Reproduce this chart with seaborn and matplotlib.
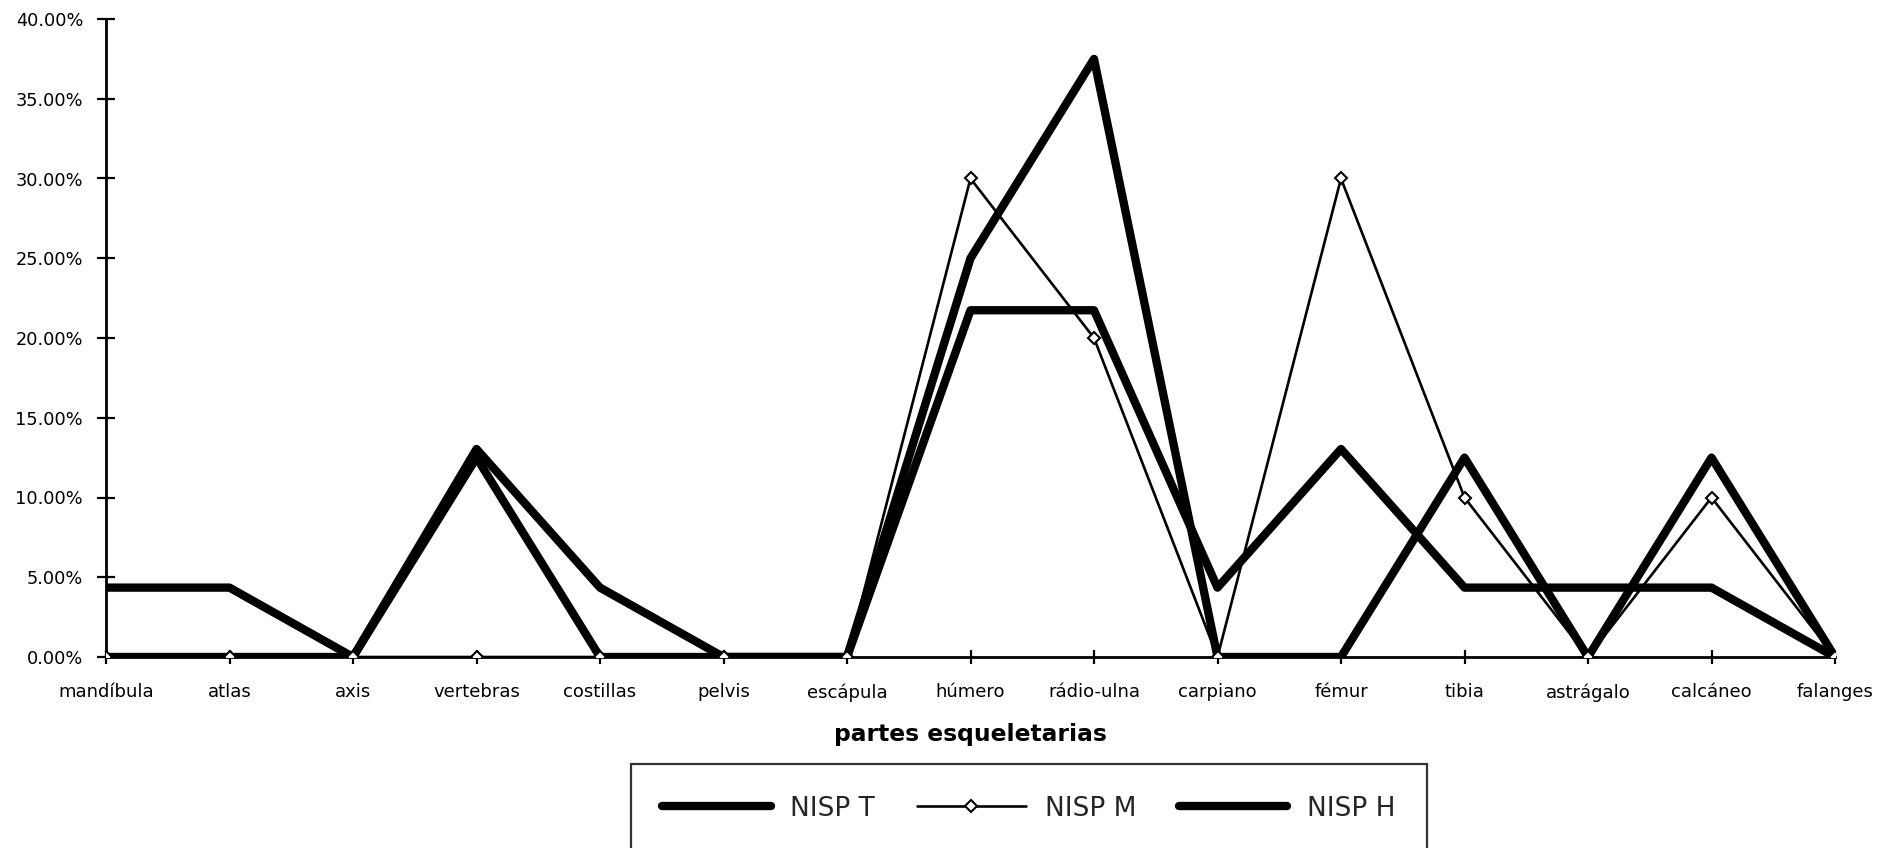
import numpy as np
import pandas as pd
import matplotlib
matplotlib.use("Agg")
import matplotlib.pyplot as plt
from matplotlib.ticker import PercentFormatter, FixedLocator
from matplotlib.lines import Line2D
import seaborn as sns

# Skeletal parts along the x axis
partes = ["mandíbula", "atlas", "axis", "vertebras", "costillas", "pelvis",
          "escápula", "húmero", "rádio-ulna", "carpiano", "fémur", "tibia",
          "astrágalo", "calcáneo", "falanges"]

# Percentage of NISP per skeletal part for each sample
nisp_t = [4.35, 4.35, 0.0, 13.04, 4.35, 0.0, 0.0, 21.74, 21.74, 4.35,
          13.04, 4.35, 4.35, 4.35, 0.0]
nisp_m = [0.0, 0.0, 0.0, 0.0, 0.0, 0.0, 0.0, 30.0, 20.0, 0.0,
          30.0, 10.0, 0.0, 10.0, 0.0]
nisp_h = [0.0, 0.0, 0.0, 12.5, 0.0, 0.0, 0.0, 25.0, 37.5, 0.0,
          0.0, 12.5, 0.0, 12.5, 0.0]

y_ticks = [0, 5, 10, 15, 20, 25, 30, 35, 40]

sns.set_style("ticks")
plt.rcParams["font.family"] = ["DejaVu Sans"]

df = pd.DataFrame({
    "pos": np.arange(len(partes)),
    "NISP T": nisp_t,
    "NISP M": nisp_m,
    "NISP H": nisp_h,
})

THICK = 6.0
THIN = 1.9

fig = plt.figure(figsize=(18.96, 8.48), dpi=100)
ax = fig.add_axes([106 / 1896, 1 - 657 / 848, (1835 - 106) / 1896, (657 - 19) / 848])

sns.lineplot(data=df, x="pos", y="NISP T", ax=ax, color="black",
             linewidth=THICK, sort=False, zorder=3)
sns.lineplot(data=df, x="pos", y="NISP H", ax=ax, color="black",
             linewidth=THICK, sort=False, zorder=3)
sns.lineplot(data=df, x="pos", y="NISP M", ax=ax, color="black",
             linewidth=THIN, sort=False, marker="D", markersize=6,
             markerfacecolor="white", markeredgecolor="black",
             markeredgewidth=1.5, zorder=4)

ax.set_xlim(0, len(partes) - 1)
ax.set_ylim(0, 40)
ax.xaxis.set_major_locator(FixedLocator(df["pos"].tolist()))
ax.set_xticklabels(partes)
ax.yaxis.set_major_locator(FixedLocator(y_ticks))
ax.yaxis.set_major_formatter(PercentFormatter(xmax=100, decimals=2))

for side in ("top", "right"):
    ax.spines[side].set_visible(False)
for side in ("left", "bottom"):
    ax.spines[side].set_linewidth(2.0)
    ax.spines[side].set_color("black")

ax.tick_params(axis="x", direction="inout", length=10, width=1.6,
               pad=14, labelsize=13, colors="black")
ax.tick_params(axis="y", direction="inout", length=13, width=1.6,
               pad=10, labelsize=12.8, colors="black")

ax.set_xlabel("")
ax.set_ylabel("")
fig.text(970 / 1896, 1 - 735 / 848, "partes esqueletarias", ha="center",
         va="center", fontsize=16.8, fontweight="bold", color="black")

handles = [
    Line2D([], [], color="black", linewidth=THICK),
    Line2D([], [], color="black", linewidth=THIN, marker="D", markersize=6,
           markerfacecolor="white", markeredgecolor="black", markeredgewidth=1.5),
    Line2D([], [], color="black", linewidth=THICK),
]
leg = fig.legend(handles, ["NISP T", "NISP M", "NISP H"], loc="upper center",
                 bbox_to_anchor=(1029 / 1896, 1 - 764 / 848), ncol=3,
                 fontsize=19, handlelength=4.1, handletextpad=0.75,
                 columnspacing=1.6, borderpad=1.2, borderaxespad=0.0,
                 frameon=True, fancybox=False, shadow=False)
frame = leg.get_frame()
frame.set_edgecolor("black")
frame.set_linewidth(1.6)
frame.set_facecolor("white")

fig.savefig("out.png", dpi=100, facecolor="white")
